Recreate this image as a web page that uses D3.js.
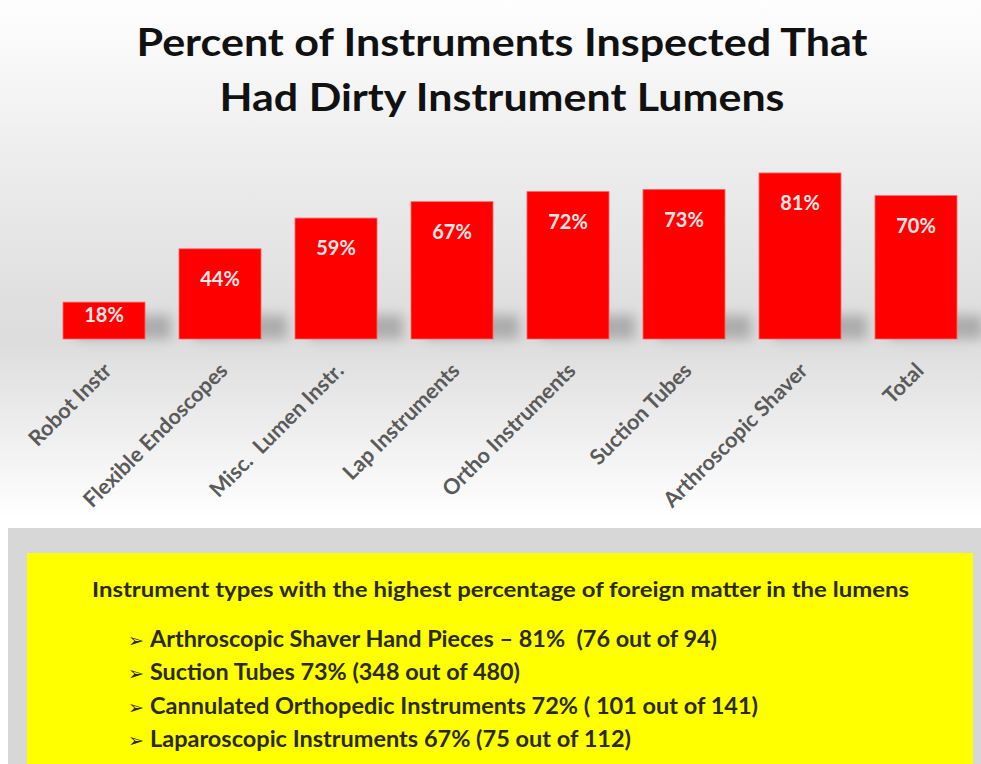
<!DOCTYPE html>
<html>
<head>
<meta charset="utf-8">
<script src="https://cdn.jsdelivr.net/npm/d3@7/dist/d3.min.js"></script>
<style>
  html, body { margin: 0; padding: 0; background: #ffffff; }
  svg { display: block; }
</style>
</head>
<body>
<svg id="chart" width="981" height="764"></svg>
<script>
// ---- data ----
const titleLines = ["Percent of Instruments Inspected That", "Had Dirty Instrument Lumens"];
const categories = ["Robot Instr", "Flexible Endoscopes", "Misc.  Lumen Instr.", "Lap Instruments",
                    "Ortho Instruments", "Suction Tubes", "Arthroscopic Shaver", "Total"];
const values = [18, 44, 59, 67, 72, 73, 81, 70];
const noteHeading = "Instrument types with the highest percentage of foreign matter in the lumens";
const noteItems = [
  "Arthroscopic Shaver Hand Pieces \u2013 81%  (76 out of 94)",
  "Suction Tubes 73% (348 out of 480)",
  "Cannulated Orthopedic Instruments 72% ( 101 out of 141)",
  "Laparoscopic Instruments 67% (75 out of 112)"
];

const titleWidths = [731, 565];
const headingWidth = 817;
const itemWidths = [567, 370, 608, 481];

const W = 981, H = 764;
const svg = d3.select("#chart");
const defs = svg.append("defs");

const bg = defs.append("linearGradient").attr("id", "bg")
  .attr("gradientUnits", "userSpaceOnUse").attr("x1", 0).attr("y1", 0).attr("x2", 0).attr("y2", 528);
[[0, "#fefefe"], [0.30, "#ededed"], [0.64, "#dcdcdc"], [0.98, "#ffffff"], [1, "#ffffff"]].forEach(([o, c]) =>
  bg.append("stop").attr("offset", o).attr("stop-color", c));

const blur = defs.append("filter").attr("id", "shadow").attr("x", "-50%").attr("y", "-100%").attr("width", "200%").attr("height", "300%");
blur.append("feGaussianBlur").attr("stdDeviation", 6);

svg.append("rect").attr("x", 0).attr("y", 0).attr("width", W).attr("height", 528).attr("fill", "url(#bg)");

// title
svg.append("g").selectAll("text").data(titleLines).join("text")
  .attr("x", 502).attr("y", (d, i) => 56 + i * 55)
  .attr("text-anchor", "middle")
  .attr("font-family", "Lato, 'Open Sans', sans-serif").attr("font-weight", "bold")
  .attr("font-size", 38).attr("fill", "#111")
  .attr("textLength", (d, i) => titleWidths[i]).attr("lengthAdjust", "spacingAndGlyphs")
  .text(d => d);

// scales
const x = d3.scaleBand().domain(categories).range([63, 957]).paddingInner(0.293).paddingOuter(0);
const y = d3.scaleLinear().domain([0, 100]).range([339, 134]);

// shadows
svg.append("g").selectAll("rect").data(values).join("rect")
  .attr("x", (d, i) => x(categories[i]) + 14)
  .attr("y", d => Math.max(y(d), y(0) - 24))
  .attr("width", x.bandwidth() + 12)
  .attr("height", d => y(0) - Math.max(y(d), y(0) - 24))
  .attr("fill", "#8c8c8c").attr("opacity", 0.6)
  .attr("filter", "url(#shadow)");

// bars
svg.append("g").selectAll("rect").data(values).join("rect")
  .attr("x", (d, i) => x(categories[i]))
  .attr("y", d => y(d))
  .attr("width", x.bandwidth())
  .attr("height", d => y(0) - y(d))
  .attr("fill", "#ff0000")
  .attr("stroke", "#ff6a6a").attr("stroke-width", 0.8);

// value labels
svg.append("g").selectAll("text").data(values).join("text")
  .attr("x", (d, i) => x(categories[i]) + x.bandwidth() / 2)
  .attr("y", d => y(d) + Math.min(30, (y(0) - y(d)) / 3))
  .attr("dy", "0.36em")
  .attr("text-anchor", "middle")
  .attr("font-family", "Lato, 'Open Sans', sans-serif").attr("font-weight", "bold")
  .attr("font-size", 20).attr("fill", "#ffe6e6")
  .text(d => d + "%");

// category axis labels
const xAxis = d3.axisBottom(x).tickSize(0).tickPadding(0);
const ax = svg.append("g").attr("transform", "translate(0,339)").call(xAxis);
ax.select(".domain").remove();
ax.selectAll(".tick text")
  .attr("font-family", "Lato, 'Open Sans', sans-serif").attr("font-weight", "bold")
  .attr("font-size", 21.5).attr("fill", "#5a5a5a")
  .attr("text-anchor", "end")
  .attr("dy", null).attr("y", null)
  .attr("transform", "translate(9,33) rotate(-45)")
  .attr("style", "white-space:pre");

// note panel
svg.append("rect").attr("x", 8).attr("y", 528).attr("width", W - 8).attr("height", H - 528).attr("fill", "#d7d7d7");
svg.append("rect").attr("x", 27).attr("y", 553).attr("width", 946).attr("height", H - 553).attr("fill", "#ffff00");

svg.append("text").attr("x", 92).attr("y", 597)
  .attr("font-family", "Lato, 'Open Sans', sans-serif").attr("font-weight", "bold")
  .attr("font-size", 20).attr("fill", "#2a2a10")
  .attr("textLength", headingWidth).attr("lengthAdjust", "spacingAndGlyphs")
  .text(noteHeading);

const items = svg.append("g").selectAll("g").data(noteItems).join("g")
  .attr("transform", (d, i) => `translate(0,${647 + i * 33.3})`);
items.append("text").attr("x", 128).attr("y", 0)
  .attr("font-family", "'DejaVu Sans', sans-serif").attr("font-weight", "bold").attr("font-size", 19).attr("fill", "#2a2a10")
  .text("\u27A2");
items.append("text").attr("x", 150).attr("y", 0)
  .attr("font-family", "Lato, 'Open Sans', sans-serif").attr("font-weight", "bold")
  .attr("font-size", 22).attr("fill", "#2a2a10")
  .attr("style", "white-space:pre")
  .attr("textLength", (d, i) => itemWidths[i]).attr("lengthAdjust", "spacingAndGlyphs")
  .text(d => d);
</script>
</body>
</html>
